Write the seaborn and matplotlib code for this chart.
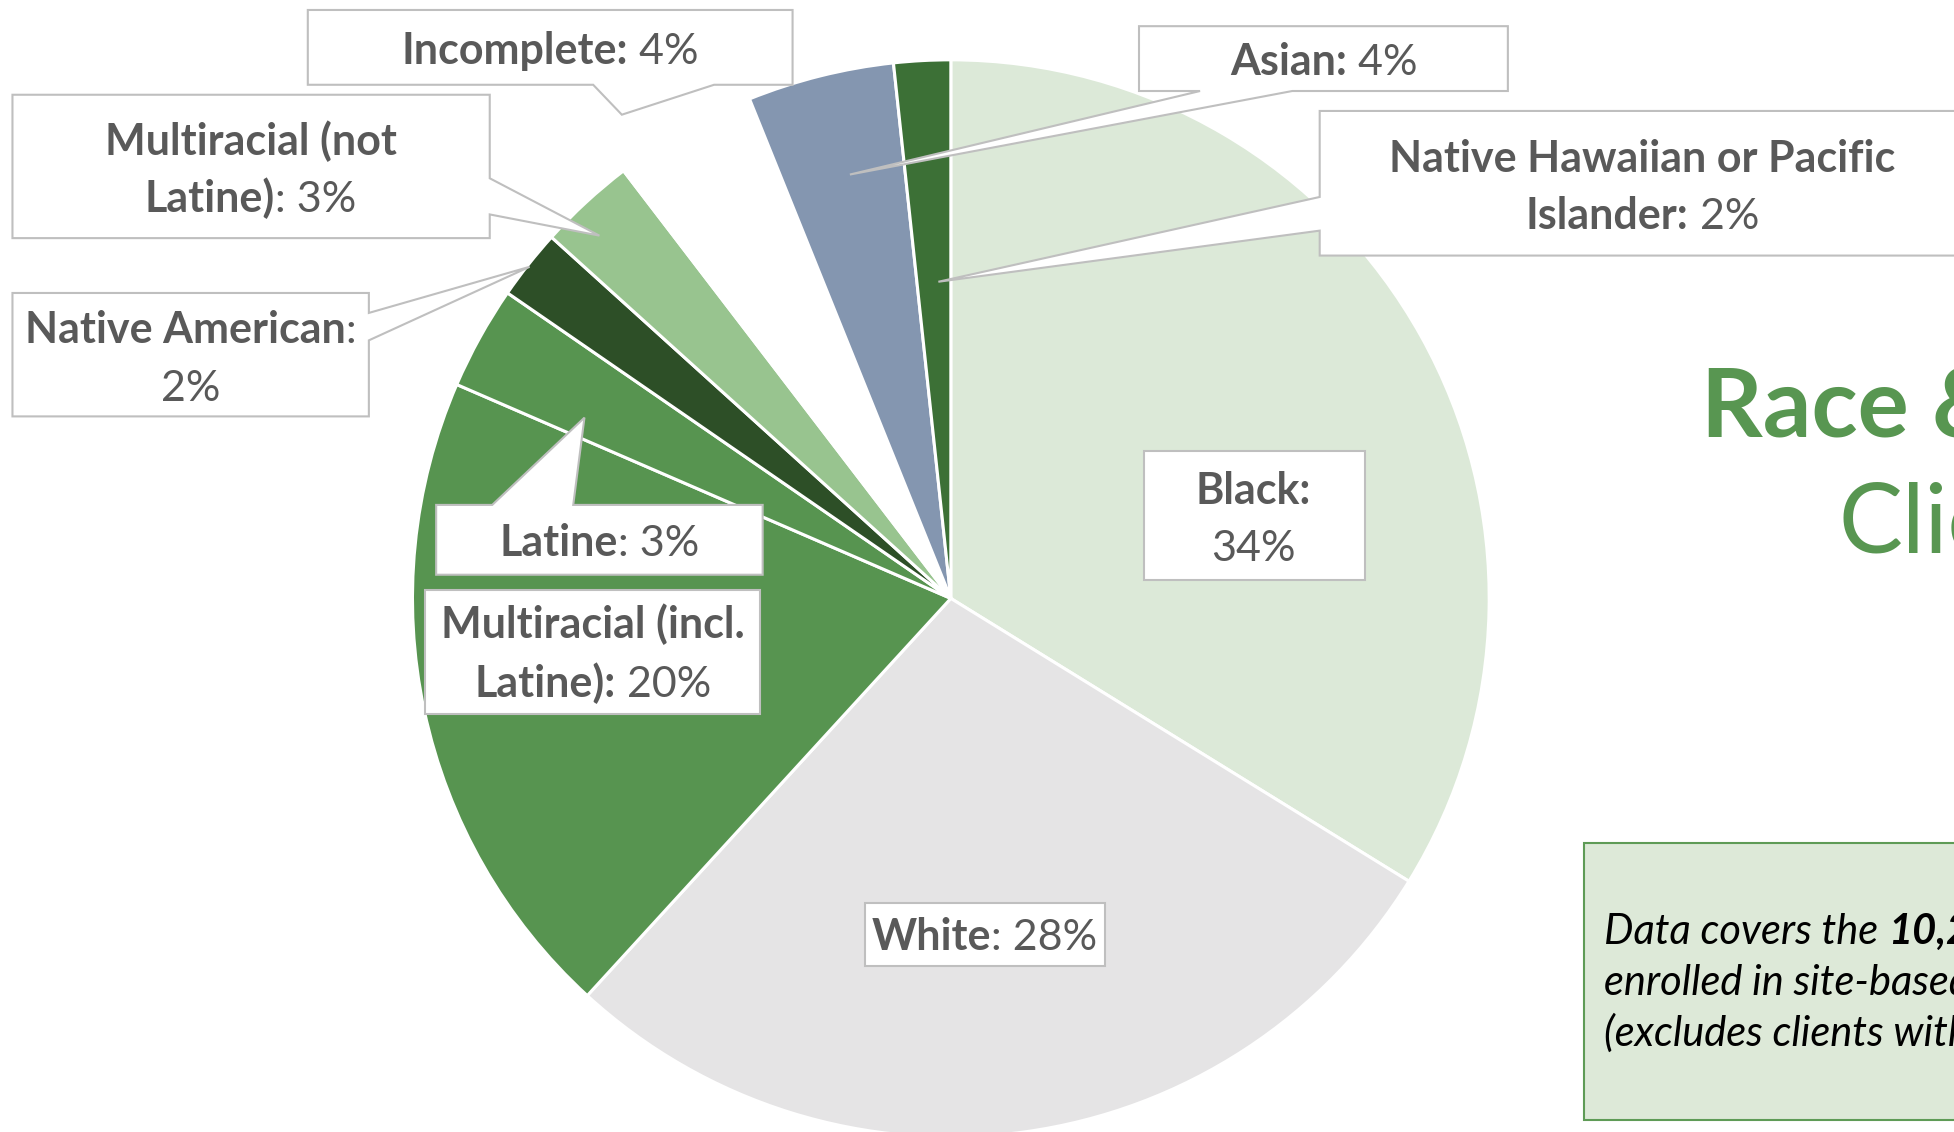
import matplotlib
matplotlib.use("Agg")
import matplotlib.pyplot as plt
import seaborn as sns
from matplotlib.patches import Polygon, Rectangle

# layout works in the units of the reference as viewed (1568 x 908)
W_REF, H_REF = 1568, 908

categories = [
    "Black",
    "White",
    "Multiracial (incl. Latine)",
    "Latine",
    "Native American",
    "Multiracial (not Latine)",
    "Incomplete",
    "Asian",
    "Native Hawaiian or Pacific Islander",
]
shares = [33.8, 28.0, 19.7, 3.1, 2.1, 2.9, 4.3, 4.4, 1.7]
slice_colors = ["#dce9d8", "#e5e4e5", "#579450", "#579450", "#2d4f27",
                "#98c48f", "#ffffff", "#8496b0", "#3c7036"]

# label lines per category: (bold part, regular part); {p} -> percent
label_lines = {
    "Black": [("Black:", ""), ("", "{p}")],
    "White": [("White", ": {p}")],
    "Multiracial (incl. Latine)": [("Multiracial (incl.", ""), ("Latine):", " {p}")],
    "Latine": [("Latine", ": {p}")],
    "Native American": [("Native American", ":"), ("", "{p}")],
    "Multiracial (not Latine)": [("Multiracial (not", ""), ("Latine)", ": {p}")],
    "Incomplete": [("Incomplete:", " {p}")],
    "Asian": [("Asian:", " {p}")],
    "Native Hawaiian or Pacific Islander": [("Native Hawaiian or Pacific", ""), ("Islander:", " {p}")],
}

# box (x0, y0, x1, y1), pointer (edge, a, b, tip), label centre x, baselines
callouts = {
    "Black": ((918, 362, 1095, 465), None, 1006, [404, 450]),
    "White": ((694, 724, 887, 775), None, 790, [762]),
    "Multiracial (incl. Latine)": ((341, 473, 610, 573), None, 476, [512, 559]),
    "Latine": ((350, 405, 612, 461), ("top", 395, 460, (469, 335)), 481, [446]),
    "Native American": ((10, 235, 296, 334), ("right", 251, 273, (425, 214)), 153, [275, 322]),
    "Multiracial (not Latine)": ((10, 76, 393, 191), ("right", 143, 172, (481, 189)), 201, [124, 170]),
    "Incomplete": ((247, 8, 636, 68), ("bottom", 476, 573, (499, 92)), 441, [51]),
    "Asian": ((914, 21, 1210, 73), ("bottom", 963, 1037, (682, 140)), 1062, [60]),
    "Native Hawaiian or Pacific Islander": ((1059, 89, 1600, 205), ("left", 158, 185, (753, 226)), 1318, [138, 184]),
}

title_lines = ["Race &", "Clients"]
note_lines = [
    [("Data covers the ", "normal"), ("10,2", "bold")],
    [("enrolled in site-based", "normal")],
    [("(excludes clients with", "normal")],
]

LABEL_COLOR = "#595959"
EDGE_COLOR = "#bfbfbf"
GREEN = "#589651"


def callout_outline(box, pointer):
    x0, y0, x1, y1 = box
    edge, a, b, tip = pointer if pointer else (None, 0, 0, None)
    pts = [(x0, y0)]
    if edge == "top":
        pts += [(a, y0), tip, (b, y0)]
    pts.append((x1, y0))
    if edge == "right":
        pts += [(x1, a), tip, (x1, b)]
    pts.append((x1, y1))
    if edge == "bottom":
        pts += [(b, y1), tip, (a, y1)]
    pts.append((x0, y1))
    if edge == "left":
        pts += [(x0, b), tip, (x0, a)]
    return pts


def draw_line(fig, ax, x, baseline, parts, size, color, style="normal", ha="center"):
    renderer = fig.canvas.get_renderer()
    texts = []
    for s, w in parts:
        if not s:
            continue
        texts.append(ax.text(0, baseline, s, fontsize=size, fontweight=w, fontstyle=style,
                             color=color, va="baseline", ha="left", zorder=6))
    widths = [t.get_window_extent(renderer).width * W_REF / fig.bbox.width for t in texts]
    pos = x - sum(widths) / 2 if ha == "center" else x
    for t, w in zip(texts, widths):
        t.set_x(pos)
        pos += w


def main():
    sns.set_theme(style="white")
    plt.rcParams["font.family"] = ["Lato", "DejaVu Sans"]

    fig = plt.figure(figsize=(19.54, 11.32), dpi=100)
    ax = fig.add_axes([0, 0, 1, 1])

    palette = sns.color_palette(slice_colors)
    ax.pie(shares, colors=palette, startangle=-90, counterclock=True,
           center=(763, 480), radius=432,
           wedgeprops=dict(edgecolor="white", linewidth=2.2))
    ax.set_xlim(0, W_REF)
    ax.set_ylim(H_REF, 0)
    ax.set_aspect("auto")
    ax.axis("off")

    for cat, share in zip(categories, shares):
        box, pointer, cx, baselines = callouts[cat]
        ax.add_patch(Polygon(callout_outline(box, pointer), closed=True, facecolor="white",
                             edgecolor=EDGE_COLOR, linewidth=1.5, zorder=4))
        pct = f"{round(share):.0f}%"
        for (bold, reg), base in zip(label_lines[cat], baselines):
            draw_line(fig, ax, cx, base, [(bold, "bold"), (reg.format(p=pct), "normal")],
                      31, LABEL_COLOR)

    # title, cut off by the right edge as in the slide
    ax.text(1365, 350, title_lines[0], fontsize=69, fontweight="bold", color=GREEN,
            va="baseline", ha="left")
    ax.text(1475, 443, title_lines[1], fontsize=69, color=GREEN,
            va="baseline", ha="left")

    # note box
    ax.add_patch(Rectangle((1271, 676), 400, 222, facecolor="#dde9d8",
                           edgecolor="#5e9b56", linewidth=1.5, zorder=3))
    for parts, base in zip(note_lines, [757, 798, 839]):
        draw_line(fig, ax, 1287, base, parts, 30, "black", style="italic", ha="left")

    fig.savefig("out.png", dpi=100)
    plt.close(fig)


if __name__ == "__main__":
    main()
